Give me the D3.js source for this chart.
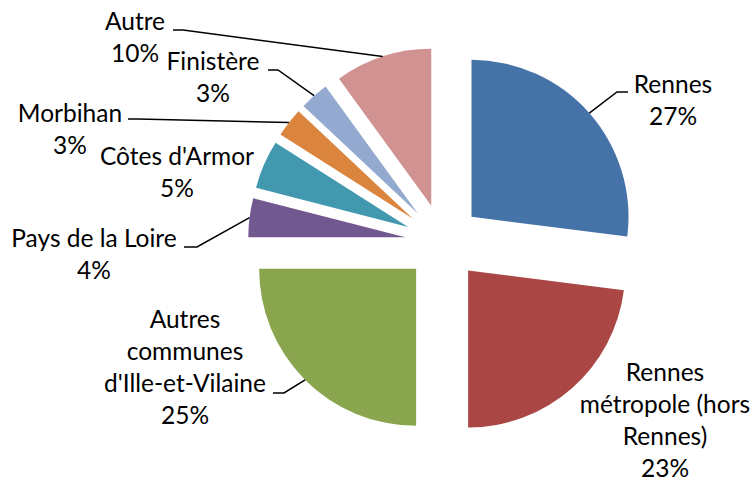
<!DOCTYPE html>
<html>
<head>
<meta charset="utf-8">
<script src="https://cdn.jsdelivr.net/npm/d3@7"></script>
<style>
  body { margin: 0; background: #fff; }
  text { font-family: Lato, "Open Sans", sans-serif; font-size: 24.5px; fill: #000; }
</style>
</head>
<body>
<div id="chart"></div>
<script>
// categories (line breaks as in the chart labels)
const categories = [
  "Rennes",
  "Rennes\nmétropole (hors\nRennes)",
  "Autres\ncommunes\nd'Ille-et-Vilaine",
  "Pays de la Loire",
  "Côtes d'Armor",
  "Morbihan",
  "Finistère",
  "Autre"
];
const values = [27, 23, 25, 4, 5, 3, 3, 10];
const colors = ["#4572A7", "#AA4643", "#89A54E", "#71588F", "#4198AF", "#DB843D", "#93A9CF", "#D19392"];

// label layout: center x, first baseline y, leader start points (null = no leader)
const labelX = [673, 665, 185, 94, 177, 70, 213, 135];
const labelY = [93, 381, 328, 247, 165, 122, 70, 30];
const leaders = [
  [[628, 92], [617, 92]],
  null,
  [[273, 393], [284, 393]],
  [[184, 247], [197, 247]],
  null,
  [[128, 119], [138, 119]],
  [[268, 70], [278, 70]],
  [[173, 30], [183, 30]]
];

const width = 755, height = 483;
const cx = 443, cy = 242, radius = 157, explode = 38;
const lineH = 32;

const svg = d3.select("#chart").append("svg")
  .attr("width", width)
  .attr("height", height);

const pie = d3.pie().sort(null).value(d => d)(values);
const arc = d3.arc().innerRadius(0).outerRadius(radius);

const mid = d => (d.startAngle + d.endAngle) / 2;
const offset = d => [Math.sin(mid(d)) * explode, -Math.cos(mid(d)) * explode];

const g = svg.append("g").attr("transform", `translate(${cx},${cy})`);

g.selectAll("path")
  .data(pie)
  .enter()
  .append("path")
  .attr("transform", d => `translate(${offset(d)})`)
  .attr("d", arc)
  .attr("fill", (d, i) => colors[i]);

// leader lines to the outer edge at the slice's mid angle
pie.forEach((d, i) => {
  if (!leaders[i]) return;
  let o = offset(d);
  let edge = [cx + o[0] + Math.sin(mid(d)) * radius, cy + o[1] - Math.cos(mid(d)) * radius];
  svg.append("path")
    .attr("d", d3.line()(leaders[i].concat([edge])))
    .attr("fill", "none")
    .attr("stroke", "#000")
    .attr("stroke-width", 1.5);
});

// labels
categories.forEach((c, i) => {
  let lines = c.split("\n").concat([values[i] + "%"]);
  let t = svg.append("text")
    .attr("text-anchor", "middle");
  lines.forEach((l, j) => {
    t.append("tspan")
      .attr("x", labelX[i])
      .attr("y", labelY[i] + j * lineH)
      .text(l);
  });
});
</script>
</body>
</html>
